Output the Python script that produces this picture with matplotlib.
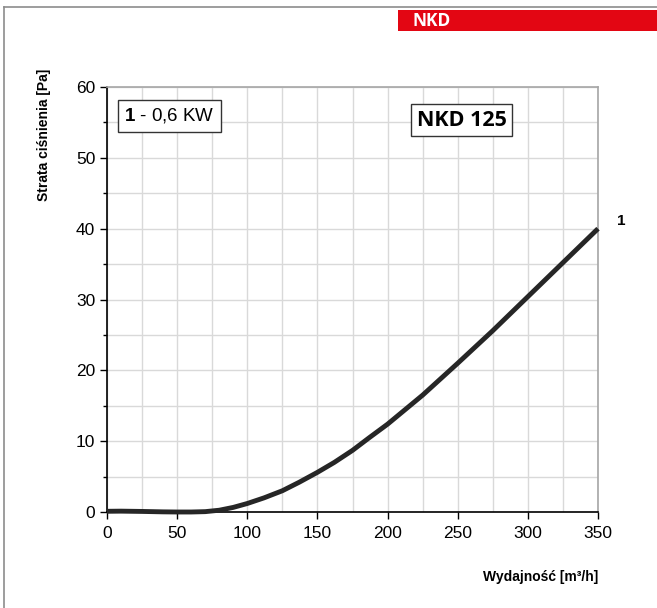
import matplotlib
matplotlib.use("Agg")
import matplotlib.pyplot as plt
from matplotlib.lines import Line2D
from matplotlib.patches import Rectangle

# --- Data --------------------------------------------------------------------

flow = [0, 10, 25, 40, 50, 60, 70, 80, 90, 100, 112, 125, 137, 150, 162,
        175, 187, 200, 225, 250, 275, 300, 325, 350]
pressure = [0.1, 0.12, 0.08, 0.02, 0.0, 0.0, 0.05, 0.25, 0.65, 1.2, 2.0, 3.0,
            4.2, 5.6, 7.0, 8.7, 10.5, 12.4, 16.5, 21.0, 25.6, 30.4, 35.2, 40.0]

x_ticks = [0, 50, 100, 150, 200, 250, 300, 350]
y_ticks = [0, 10, 20, 30, 40, 50, 60]

CURVE_COLOR = "#262626"
GRID_COLOR = "#d9d9d9"
RED = "#e30613"
NARROW = ["Liberation Sans Narrow", "Liberation Sans"]

plt.rcParams["font.family"] = ["Liberation Sans", "DejaVu Sans"]
plt.rcParams["mathtext.fontset"] = "custom"
plt.rcParams["mathtext.bf"] = "Liberation Sans:bold"
plt.rcParams["mathtext.rm"] = "Liberation Sans"

fig = plt.figure(figsize=(6.57, 6.08), dpi=100)

# page frame (top + left lines) and red header
fig.add_artist(Line2D([4 / 657, 1], [1 - 7 / 608, 1 - 7 / 608],
                      transform=fig.transFigure, color="#8c8c8c", lw=1.2))
fig.add_artist(Line2D([4 / 657, 4 / 657], [0, 1 - 7 / 608],
                      transform=fig.transFigure, color="#8c8c8c", lw=1.2))
fig.add_artist(Rectangle((398 / 657, 1 - 31 / 608), 259 / 657, 21 / 608,
                         transform=fig.transFigure, color=RED, lw=0))
fig.text(413 / 657, 1 - 20.5 / 608, "NKD", color="white", fontsize=12.5,
         fontweight="bold", family="Open Sans", ha="left", va="center")

ax = fig.add_axes([107 / 657, 96 / 608, 491 / 657, 425 / 608])
ax.plot(flow, pressure, color=CURVE_COLOR, lw=3.5, solid_capstyle="butt",
        zorder=3, clip_on=False)

ax.set_xlim(0, 350)
ax.set_ylim(0, 60)
ax.set_xticks(x_ticks)
ax.set_yticks(y_ticks)
ax.set_xticks(range(0, 351, 25), minor=True)
ax.set_yticks(range(0, 61, 5), minor=True)
ax.grid(True, which="both", color=GRID_COLOR, lw=1.0)
ax.set_axisbelow(True)

for s in ["top", "right"]:
    ax.spines[s].set_color("#a6a6a6")
    ax.spines[s].set_linewidth(1.2)
for s in ["left", "bottom"]:
    ax.spines[s].set_color("black")
    ax.spines[s].set_linewidth(1.2)

ax.tick_params(axis="both", which="major", length=5, width=1, labelsize=12.5,
               colors="black")
ax.tick_params(axis="x", which="minor", length=0)
ax.tick_params(axis="y", which="minor", length=3, width=1)
ax.tick_params(axis="x", pad=5)

# legend boxes
ax.text(0.035, 0.932, r"$\mathbf{1}$ - 0,6 KW", transform=ax.transAxes,
        fontsize=13.5, ha="left", va="center",
        bbox=dict(boxstyle="square,pad=0.35", fc="white", ec="#333333", lw=1))
ax.text(0.722, 0.922, "NKD 125", transform=ax.transAxes, fontsize=15.5,
        fontweight="bold", family="Open Sans", ha="center", va="center",
        bbox=dict(boxstyle="square,pad=0.25", fc="white", ec="#333333", lw=1))

# curve label
ax.text(1.047, 0.685, "1", transform=ax.transAxes, fontsize=11,
        fontweight="bold", ha="center", va="center")

fig.text(44 / 657, 1 - 135 / 608, "Strata ciśnienia [Pa]", rotation=90,
         fontsize=10, fontweight="bold", family=NARROW,
         ha="center", va="center")
fig.text(598 / 657, 1 - 577 / 608, "Wydajność [m³/h]",
         fontsize=10, fontweight="bold", family=NARROW,
         ha="right", va="center")

fig.savefig("out.png", dpi=100, facecolor="white")
